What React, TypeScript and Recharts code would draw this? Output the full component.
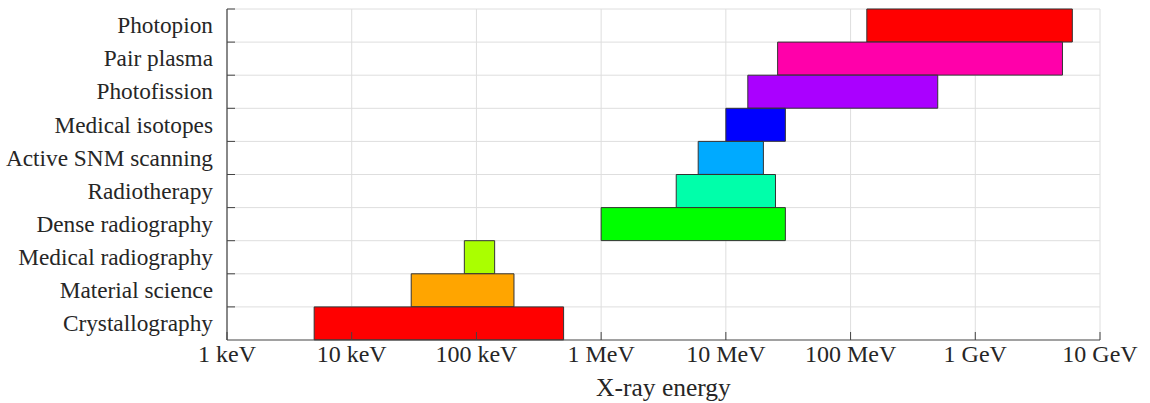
import React from 'react';
import { BarChart, Bar, XAxis, YAxis, CartesianGrid, Cell, Label } from 'recharts';

// energies in keV
const categories = [
  'Photopion', 'Pair plasma', 'Photofission', 'Medical isotopes', 'Active SNM scanning',
  'Radiotherapy', 'Dense radiography', 'Medical radiography', 'Material science', 'Crystallography',
];
const lowKeV = [135e3, 26e3, 15e3, 10e3, 6e3, 4e3, 1e3, 80, 30, 5];
const highKeV = [6e6, 5e6, 500e3, 30e3, 20e3, 25e3, 30e3, 140, 200, 500];
const colors = [
  '#ff0000', '#ff00aa', '#aa00ff', '#0000ff', '#00aaff',
  '#00ffaa', '#00ff00', '#aaff00', '#ffa500', '#ff0000',
];
const tickValues = [1, 10, 100, 1e3, 1e4, 1e5, 1e6, 1e7];
const tickLabels = ['1 keV', '10 keV', '100 keV', '1 MeV', '10 MeV', '100 MeV', '1 GeV', '10 GeV'];

const W = 1150;
const H = 403;
const MARGIN = { top: 9, right: 50, bottom: 0, left: 0 };
const Y_AXIS_W = 227;
const X_AXIS_H = 63;
const PLOT_H = H - MARGIN.top - MARGIN.bottom - X_AXIS_H;
const BAND = PLOT_H / categories.length;

const FONT = '"Liberation Serif", "Times New Roman", serif';
const TEXT = '#262626';
const AXIS = '#444';

const data = categories.map((name, i) => ({ name, range: [lowKeV[i], highKeV[i]] }));

const XTick = (props: any) => {
  const { x, y, payload } = props;
  const i = tickValues.indexOf(payload.value);
  return (
    <g>
      <line x1={x} x2={x} y1={y} y2={y - 8} stroke={AXIS} strokeWidth={1} />
      <text x={x} y={y + 22} textAnchor="middle" fill={TEXT} fontFamily={FONT} fontSize={24}>
        {tickLabels[i]}
      </text>
    </g>
  );
};

const YTick = (props: any) => {
  const { x, y, payload } = props;
  const top = y - BAND / 2;
  return (
    <g>
      <line x1={x} x2={x + 8} y1={top} y2={top} stroke={AXIS} strokeWidth={1} />
      <text x={x - 14} y={y} dy="0.33em" textAnchor="end" fill={TEXT} fontFamily={FONT} fontSize={23.3}>
        {payload.value}
      </text>
    </g>
  );
};

export default function App() {
  return (
    <div style={{ position: 'absolute', left: 0, top: 0, width: W, height: H, background: '#fff' }}>
      <BarChart
        width={W}
        height={H}
        data={data}
        layout="vertical"
        margin={MARGIN}
        barCategoryGap={0}
        barGap={0}
      >
        <CartesianGrid
          stroke="#dedede"
          horizontalCoordinatesGenerator={({ offset }: any) =>
            categories.map((_, i) => offset.top + (i * offset.height) / categories.length)
          }
        />
        <XAxis
          type="number"
          scale="log"
          domain={[1, 1e7]}
          ticks={tickValues}
          allowDataOverflow
          interval={0}
          height={X_AXIS_H}
          tickSize={0}
          tickMargin={0}
          tickLine={false}
          tick={<XTick />}
          axisLine={{ stroke: AXIS, strokeWidth: 1.2 }}
        >
          <Label
            value="X-ray energy"
            position="insideBottom"
            offset={7}
            fill={TEXT}
            fontFamily={FONT}
            fontSize={25.5}
          />
        </XAxis>
        <YAxis
          type="category"
          dataKey="name"
          width={Y_AXIS_W}
          interval={0}
          tickSize={0}
          tickMargin={0}
          tickLine={false}
          tick={<YTick />}
          axisLine={{ stroke: AXIS, strokeWidth: 1.2 }}
        />
        <Bar dataKey="range" isAnimationActive={false} stroke="#333" strokeWidth={1}>
          {data.map((d, i) => (
            <Cell key={d.name} fill={colors[i]} />
          ))}
        </Bar>
      </BarChart>
    </div>
  );
}
